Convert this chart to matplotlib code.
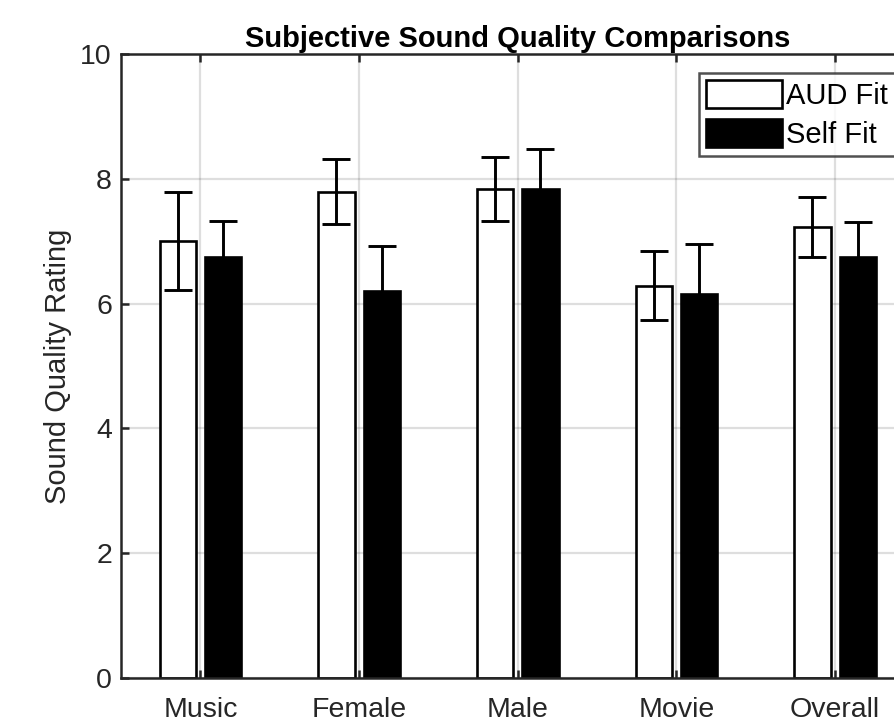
import numpy as np
import matplotlib.pyplot as plt
from matplotlib.patches import Patch

# 字体：接近 MATLAB 默认的 Helvetica
plt.rcParams['font.family'] = ['Liberation Sans', 'DejaVu Sans']

categories = ['Music', 'Female', 'Male', 'Movie', 'Overall']
aud_fit = [7.0, 7.79, 7.84, 6.29, 7.23]
aud_err = [0.79, 0.52, 0.51, 0.55, 0.48]
self_fit = [6.75, 6.20, 7.83, 6.15, 6.74]
self_err = [0.58, 0.72, 0.65, 0.81, 0.56]

dark = '#262626'

fig = plt.figure(figsize=(8.95, 7.25), dpi=100)
# 右侧坐标轴超出图片（原图被裁剪）
ax = fig.add_axes([121 / 895, 1 - 678 / 725, (914.5 - 121) / 895, (678 - 54) / 725])

x = np.arange(1, len(categories) + 1)
off = 1 / 7
w = 0.8 / 3.5

ax.bar(x - off, aud_fit, w, color='white', edgecolor='k', linewidth=1.9, zorder=2)
ax.bar(x + off, self_fit, w, color='black', edgecolor='k', linewidth=1.9, zorder=2)
ax.errorbar(x - off, aud_fit, yerr=aud_err, fmt='none', ecolor='k',
            elinewidth=2.1, capsize=10, capthick=2.1, zorder=3)
ax.errorbar(x + off, self_fit, yerr=self_err, fmt='none', ecolor='k',
            elinewidth=2.1, capsize=10, capthick=2.1, zorder=3)

ax.set_xlim(0.5, 5.5)
ax.set_ylim(0, 10)
ax.set_xticks(x)
ax.set_xticklabels(categories)
ax.set_yticks([0, 2, 4, 6, 8, 10])

ax.grid(True, color=dark, alpha=0.15, linewidth=1.6)
ax.set_axisbelow(True)

for s in ax.spines.values():
    s.set_color(dark)
    s.set_linewidth(1.8)
ax.tick_params(axis='both', direction='in', length=6, width=1.8, color=dark,
               labelcolor=dark, labelsize=20.5, top=True, right=True)
ax.tick_params(axis='x', pad=13.5)
ax.tick_params(axis='y', pad=6.5)

ax.set_ylabel('Sound Quality Rating', fontsize=21, color=dark, labelpad=6)
ax.set_title('Subjective Sound Quality Comparisons', fontsize=21,
             fontweight='bold', pad=5)

handles = [Patch(facecolor='white', edgecolor='k', linewidth=1.9, label='AUD Fit'),
           Patch(facecolor='black', edgecolor='k', linewidth=1.9, label='Self Fit')]
leg = fig.legend(handles=handles, loc='upper left', bbox_to_anchor=(699 / 895, 1 - 73 / 725),
                 fontsize=21, frameon=True, fancybox=False, borderpad=0.25,
                 handlelength=2.6, handleheight=1.1, handletextpad=0.15,
                 labelspacing=0.3, borderaxespad=0)
leg.get_frame().set_edgecolor(dark)
leg.get_frame().set_linewidth(1.8)

plt.savefig('out.png', dpi=100)
